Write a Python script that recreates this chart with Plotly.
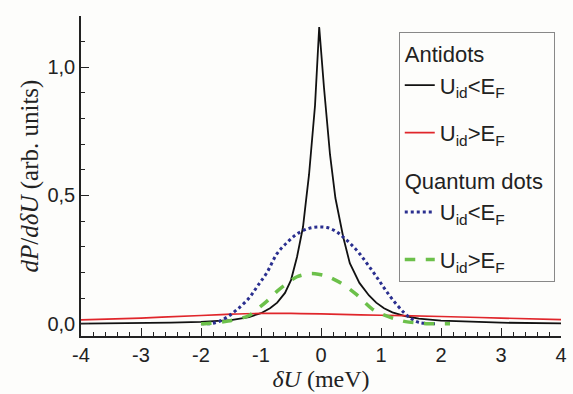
import plotly.graph_objects as go

# ---- data ----
anti_low_x = [-4, -3, -2.5, -2, -1.5, -1.2, -1.0, -0.85, -0.73, -0.6, -0.5, -0.4, -0.3, -0.245, -0.2, -0.1,
              -0.03, 0.05, 0.15, 0.24, 0.37, 0.48, 0.64, 0.8, 0.92, 1.05, 1.19, 1.4, 1.63, 2, 2.5, 3, 4]
anti_low_y = [0.0, 0.002, 0.004, 0.007, 0.014, 0.026, 0.041, 0.06, 0.082, 0.12, 0.17, 0.26, 0.377, 0.49, 0.58, 0.85,
              1.157, 0.92, 0.66, 0.49, 0.338, 0.236, 0.159, 0.11, 0.082, 0.06, 0.044, 0.03, 0.02, 0.012, 0.007, 0.004, 0.001]

anti_high_x = [-4, -3, -2, -1.5, -1.0, -0.5, 0, 1, 2, 3, 4]
anti_high_y = [0.015, 0.022, 0.032, 0.037, 0.04, 0.04, 0.038, 0.033, 0.028, 0.022, 0.016]

qd_low_x = [-2, -1.85, -1.71, -1.55, -1.39, -1.2, -1.06, -0.9, -0.73, -0.55, -0.4, -0.2, -0.05, 0.1, 0.25,
            0.37, 0.5, 0.64, 0.78, 0.92, 1.05, 1.19, 1.38, 1.5, 1.63, 1.9]
qd_low_y = [0.0, 0.0, 0.008, 0.028, 0.057, 0.1, 0.146, 0.2, 0.274, 0.32, 0.35, 0.372, 0.377, 0.375, 0.36,
            0.338, 0.31, 0.274, 0.23, 0.185, 0.14, 0.095, 0.044, 0.02, 0.005, 0.0]

qd_high_x = [-2, -1.93, -1.7, -1.55, -1.39, -1.2, -1.06, -0.9, -0.73, -0.55, -0.4, -0.2, -0.1, 0.1, 0.2,
             0.37, 0.59, 0.86, 1.08, 1.25, 1.41, 1.6, 1.8, 2.15]
qd_high_y = [0.0, 0.0, 0.005, 0.01, 0.018, 0.032, 0.057, 0.088, 0.127, 0.16, 0.183, 0.195, 0.195, 0.185, 0.175,
             0.153, 0.114, 0.056, 0.031, 0.018, 0.008, 0.003, 0.0, 0.0]

x_tickvals = [-4, -3, -2, -1, 0, 1, 2, 3, 4]
x_ticktext = ["-4", "-3", "-2", "-1", "0", "1", "2", "3", "4"]
y_tickvals = [0.0, 0.5, 1.0]
y_ticktext = ["0,0", "0,5", "1,0"]

lbl_low = "U<sub>id</sub>&lt;E<sub>F</sub>"
lbl_high = "U<sub>id</sub>&gt;E<sub>F</sub>"

fig = go.Figure()
fig.add_trace(go.Scatter(x=anti_low_x, y=anti_low_y, mode="lines", name=lbl_low,
                         line=dict(color="#111111", width=1.8),
                         legendgroup="anti1", legendgrouptitle_text="Antidots"))
fig.add_trace(go.Scatter(x=anti_high_x, y=anti_high_y, mode="lines", name=lbl_high,
                         line=dict(color="#e0262b", width=1.7, shape="spline"),
                         legendgroup="anti2"))
fig.add_trace(go.Scatter(x=qd_low_x, y=qd_low_y, mode="lines", name=lbl_low,
                         line=dict(color="#2a2f8f", width=3, dash="dot", shape="spline"),
                         legendgroup="qd1", legendgrouptitle_text="Quantum dots"))
fig.add_trace(go.Scatter(x=qd_high_x, y=qd_high_y, mode="lines", name=lbl_high,
                         line=dict(color="#6cc04a", width=3.5, dash="dash", shape="spline"),
                         legendgroup="qd2"))

fig.update_layout(
    width=573, height=394,
    margin=dict(l=81, r=6, t=16, b=53),
    paper_bgcolor="#fdfdfb", plot_bgcolor="#fdfdfb",
    font=dict(family="Liberation Sans, Arial, sans-serif", size=20, color="#222222"),
    showlegend=True,
    legend=dict(x=0.662, y=0.951, xanchor="left", yanchor="top",
                bordercolor="#888888", borderwidth=1, bgcolor="#fdfdfb",
                font=dict(size=22, color="#222222"),
                grouptitlefont=dict(size=22, color="#222222"),
                traceorder="grouped", tracegroupgap=16),
    xaxis=dict(range=[-4, 4], showgrid=False, zeroline=False,
               showline=True, linecolor="#222222", linewidth=1.5,
               ticks="inside", ticklen=8, tickwidth=1.3, tickcolor="#222222",
               tickvals=x_tickvals, ticktext=x_ticktext, ticklabeloverflow="allow",
               minor=dict(ticks="inside", ticklen=4, tickwidth=1, tickcolor="#222222", dtick=0.2),
               title=dict(text="<i>δU</i> (meV)",
                          font=dict(family="Liberation Serif, Times New Roman, serif", size=24),
                          standoff=5)),
    yaxis=dict(range=[-0.048, 1.2], showgrid=False, zeroline=False,
               showline=True, linecolor="#222222", linewidth=1.5,
               ticks="inside", ticklen=8, tickwidth=1.3, tickcolor="#222222",
               tickvals=y_tickvals, ticktext=y_ticktext,
               minor=dict(ticks="inside", ticklen=4, tickwidth=1, tickcolor="#222222",
                          tickvals=[0.1, 0.2, 0.3, 0.4, 0.6, 0.7, 0.8, 0.9, 1.1, 1.2]),
               title=dict(text="<i>dP</i>/<i>dδU</i> (arb. units)",
                          font=dict(family="Liberation Serif, Times New Roman, serif", size=25),
                          standoff=2)),
)

fig.write_html("out.html")
